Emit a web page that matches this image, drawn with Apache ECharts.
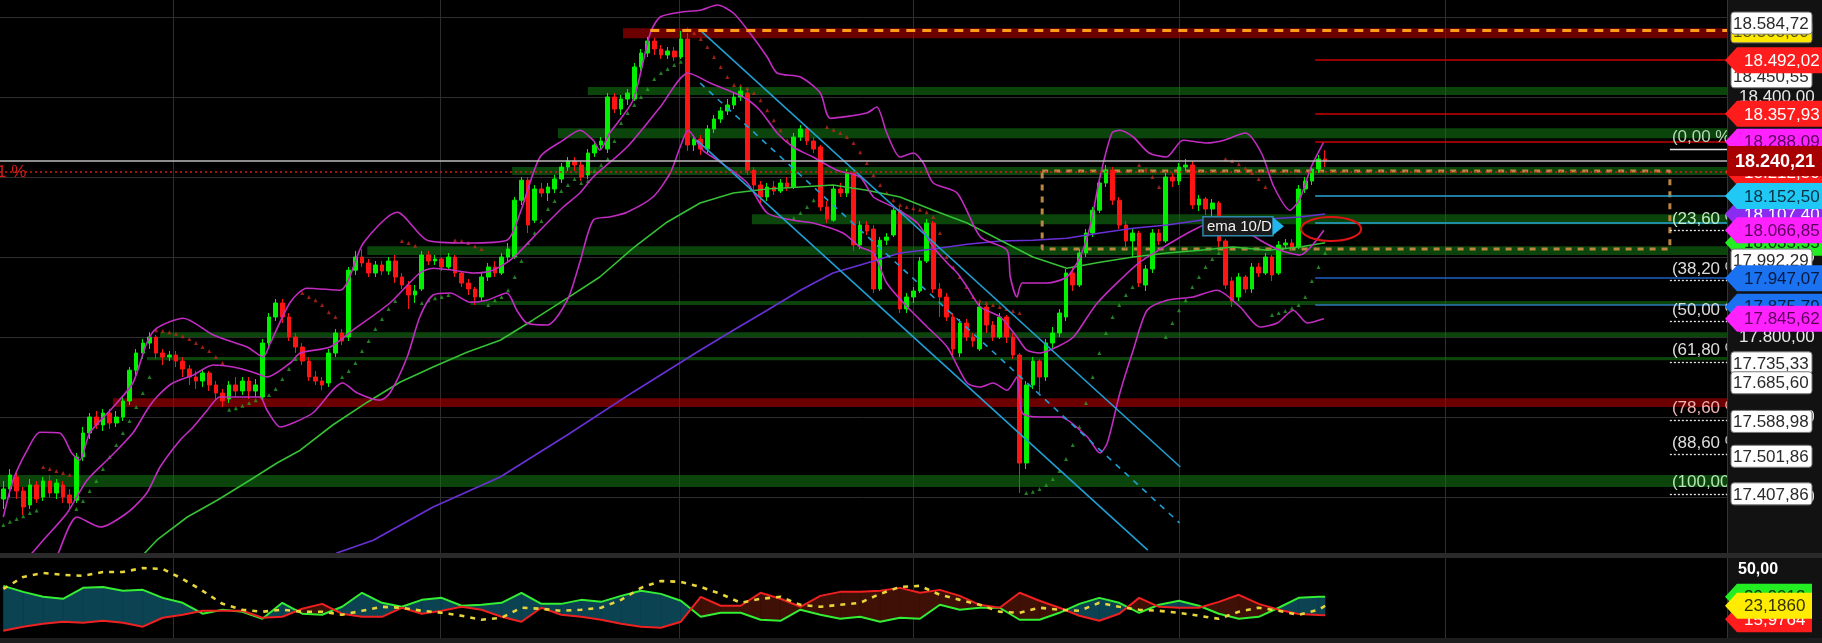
<!DOCTYPE html>
<html>
<head>
<meta charset="utf-8">
<script src="https://cdn.jsdelivr.net/npm/echarts@6.0.0/dist/echarts.min.js"></script>
<style>
html,body{margin:0;padding:0;background:#000;overflow:hidden}
#chart{width:1822px;height:643px}
</style>
</head>
<body>
<div id="chart"></div>
<script>
// ---------------- DATA ----------------
const opens = [
17395,17420,17450,17415,17380,17430,17400,17440,17410,17430,
17405,17392,17500,17560,17600,17580,17610,17585,17600,17640,
17717,17760,17785,17800,17760,17750,17755,17740,17720,17700,
17690,17710,17680,17660,17645,17680,17665,17690,17665,17650,
17785,17850,17885,17850,17800,17775,17740,17700,17690,17685,
17760,17810,17800,17967,18000,17985,17960,17980,17965,17990,
17950,17930,17905,17920,18005,17990,17995,17975,18000,17960,
17935,17920,17900,17950,17975,17960,18000,18000,18142,18192,
18092,18170,18160,18170,18195,18225,18240,18230,18205,18260,
18280,18270,18400,18370,18395,18395,18475,18510,18540,18520,
18505,18515,18500,18545,18280,18295,18270,18320,18345,18365,
18380,18400,18410,18217,18180,18150,18175,18165,18185,18175,
18300,18320,18290,18275,18125,18092,18170,18160,18210,18030,
18080,18070,17920,18042,18055,18117,17870,17900,17915,17990,
18085,17920,17900,17850,17760,17835,17800,17770,17875,17830,
17800,17850,17800,17755,17485,17680,17740,17700,17785,17810,
17850,17960,17930,18010,18060,18117,18185,18217,18142,18080,
18040,18060,17930,17970,18060,18040,18200,18190,18225,18230,
18130,18145,18120,18135,18040,17940,17900,17950,17920,17975,
17960,18000,17960,18030,18035,18025,18170,18190,18220,18245];
const closes = [
17420,17455,17415,17375,17430,17395,17440,17410,17435,17400,
17385,17500,17560,17600,17580,17610,17585,17600,17640,17717,
17760,17785,17800,17760,17750,17755,17740,17720,17700,17690,
17710,17680,17660,17640,17680,17665,17690,17665,17680,17785,
17850,17885,17850,17800,17775,17740,17700,17690,17680,17760,
17810,17790,17967,18000,17985,17960,17980,17965,17990,17950,
17930,17905,17915,18005,17990,17995,17975,18000,17960,17935,
17920,17900,17950,17975,17960,18000,18020,18142,18192,18080,
18170,18160,18175,18195,18225,18240,18230,18200,18260,18280,
18290,18400,18370,18395,18410,18475,18510,18540,18520,18505,
18515,18500,18545,18280,18295,18270,18320,18345,18365,18380,
18400,18415,18217,18180,18150,18175,18165,18185,18175,18300,
18320,18290,18270,18125,18095,18170,18160,18210,18030,18080,
18065,17920,18042,18050,18117,17870,17900,17915,17990,18085,
17920,17900,17850,17770,17835,17800,17790,17875,17830,17800,
17850,17800,17755,17485,17680,17740,17700,17785,17810,17860,
17960,17930,18010,18060,18117,18185,18217,18142,18080,18040,
18060,17935,17970,18060,18040,18200,18190,18225,18230,18130,
18145,18120,18135,18040,17930,17890,17950,17920,17975,17960,
18000,17955,18030,18035,18025,18170,18190,18220,18245,18240.21];
const lows = [
17370,17400,17395,17355,17370,17385,17390,17400,17395,17385,
17370,17385,17490,17545,17570,17565,17570,17575,17590,17630,
17700,17745,17770,17745,17730,17740,17725,17700,17680,17670,
17675,17665,17640,17625,17635,17650,17655,17645,17650,17640,
17775,17840,17835,17790,17760,17730,17690,17680,17667,17675,
17750,17780,17790,17955,17975,17950,17950,17955,17955,17935,
17920,17870,17885,17915,17980,17980,17965,17970,17950,17925,
17905,17880,17890,17940,17950,17955,17990,17995,18130,18060,
18085,18150,18140,18160,18185,18215,18215,18190,18195,18250,
18270,18260,18360,18355,18380,18390,18465,18500,18505,18495,
18495,18490,18495,18265,18265,18255,18260,18310,18335,18355,
18370,18390,18205,18165,18130,18140,18155,18160,18165,18170,
18290,18280,18260,18115,18085,18088,18150,18150,18015,18020,
18055,17910,17915,18030,18050,17860,17860,17885,17910,17985,
17910,17850,17840,17755,17750,17790,17775,17765,17810,17790,
17795,17785,17745,17410,17470,17670,17660,17690,17770,17800,
17840,17915,17925,18000,18050,18110,18175,18130,18070,18020,
18000,17925,17915,17960,18030,18035,18175,18180,18215,18120,
18115,18105,18100,18025,17920,17875,17890,17910,17910,17950,
17955,17940,17955,18020,18015,18020,18160,18180,18210,18225];
const highs = [
17440,17470,17460,17425,17445,17440,17450,17455,17445,17440,
17420,17510,17575,17610,17615,17620,17620,17615,17650,17725,
17770,17795,17812,17805,17770,17765,17765,17750,17730,17715,
17720,17715,17690,17670,17690,17700,17700,17700,17695,17795,
17860,17895,17895,17860,17810,17785,17750,17715,17700,17770,
17820,17820,17975,18015,18020,17995,17990,17990,18000,18005,
17960,17940,17930,18015,18015,18005,18000,18010,18005,17965,
17945,17925,17960,17985,17990,18010,18035,18150,18200,18200,
18180,18185,18185,18205,18235,18250,18250,18240,18270,18290,
18300,18410,18410,18405,18420,18485,18520,18550,18548,18530,
18525,18525,18565,18560,18305,18305,18330,18355,18375,18395,
18410,18425,18420,18225,18190,18185,18190,18195,18200,18310,
18330,18325,18300,18280,18140,18180,18185,18220,18215,18090,
18090,18080,18050,18060,18125,18125,17910,17925,18000,18095,
18090,17935,17910,17860,17845,17845,17810,17885,17880,17840,
17860,17855,17810,17760,17690,17750,17745,17795,17825,17870,
17970,17975,18020,18070,18125,18195,18230,18225,18150,18090,
18070,18065,17980,18070,18070,18210,18210,18235,18245,18240,
18155,18150,18145,18140,18045,17950,17960,17955,17985,17985,
18010,18005,18040,18045,18045,18180,18200,18230,18255,18267];
// Parabolic SAR, one value per candle
const sar = [
17330,17338,17345,17352,17360,17366,17475,17470,17465,17460,
17455,17370,17390,17415,17440,17470,17500,17530,17560,17590,
17625,17660,17700,17817,17815,17812,17808,17802,17795,17785,
17775,17765,17750,17735,17618,17622,17628,17635,17642,17648,
17655,17670,17695,17720,17745,17910,17900,17892,17880,17862,
17850,17700,17715,17735,17765,17790,17820,17845,17870,17890,
18040,18035,18028,17885,17892,17897,17900,17905,18042,18040,
18035,18027,18020,17880,17892,17900,17917,17950,17990,18035,
18060,18090,18120,18140,18165,18180,18195,18185,18190,18215,
18230,18245,18290,18335,18360,18380,18400,18420,18445,18460,
18470,18480,18488,18570,18560,18545,18525,18500,18475,18450,
18430,18428,18422,18410,18392,18367,18342,18317,18292,18097,
18110,18125,18142,18150,18325,18318,18310,18300,18285,18262,
18235,18205,18180,18160,18142,18130,18125,18122,18118,18112,
18100,18060,18000,17975,17950,17925,17900,17890,17885,17880,
17875,17870,17865,17860,17410,17413,17420,17430,17445,17465,
17495,17530,17575,17635,17700,17760,17810,17850,17880,17905,
17925,18230,18220,18200,18175,17800,17835,17867,17892,17925,
17950,17975,17995,18010,18245,18240,18232,18222,18210,18195,
18175,17855,17860,17865,17872,17880,17900,17940,17975,18010];

// Bollinger bands / moving averages: [candle index, price]
const bbUpper = [[0,17350],[1.5,17443],[3.6,17517],[5.5,17562],[8.5,17560],[10.3,17510],[11.5,17492],[13,17560],[16.1,17617],[19.5,17685],[21.6,17785],[23.1,17822],[27.1,17847],[31.6,17805],[36.7,17775],[39.1,17750],[40.2,17785],[43.2,17887],[45.7,17922],[50.7,17917],[54.2,18035],[59.3,18112],[63.8,18042],[69.8,18035],[75.8,18042],[77.8,18110],[80.8,18250],[84.3,18292],[86.8,18317],[88.8,18292],[89.8,18267],[91.3,18310],[94.8,18392],[97.4,18560],[98.9,18600],[101.9,18612],[104.9,18617],[107.5,18630],[109.9,18610],[112.4,18560],[115,18500],[116.5,18460],[120,18450],[123,18410],[124.5,18347],[130,18360],[131.5,18375],[133,18310],[135,18250],[137,18260],[138.5,18235],[140,18185],[143.6,18160],[147.1,18050],[151.1,18017],[151.6,17950],[152.6,17900],[153.4,17935],[157.1,17935],[160.1,17950],[162.1,18000],[163.6,18075],[165.1,18200],[166.9,18310],[168.1,18317],[170.1,18300],[172.5,18260],[175.1,18250],[177.6,18292],[181.2,18285],[183.8,18292],[187,18310],[189.4,18260],[191.3,18175],[193.7,18117],[195.1,18142],[196.9,18225],[198.8,18288.09]];
const bbMiddle = [[0,17205],[3.3,17242],[6,17292],[9.6,17360],[12.6,17442],[16.1,17500],[19.5,17560],[21.6,17617],[23.1,17650],[25.5,17685],[28.6,17705],[31.6,17730],[34.6,17725],[37.6,17712],[39.7,17700],[43.2,17735],[44.7,17760],[49.2,17775],[52.6,17817],[58.2,17885],[62.7,17960],[64.7,17972],[67.7,17967],[70.7,17960],[73.7,17967],[76.7,17997],[80.8,18067],[84.3,18125],[86.8,18160],[88.8,18200],[93.9,18275],[98.9,18375],[103.1,18460],[106.4,18435],[111.4,18400],[113.9,18367],[116.5,18310],[118.9,18275],[121.9,18250],[125.5,18217],[129,18200],[131,18150],[134,18125],[137.6,18085],[140,18025],[142.1,17985],[143.6,17960],[145.1,17925],[147.1,17875],[150.1,17850],[152.6,17800],[154.1,17767],[156.1,17760],[158.6,17775],[161.1,17800],[163.2,17850],[164.7,17885],[168.1,17942],[171.1,17987],[175.2,18030],[179.1,18067],[182.1,18087],[186.2,18072],[189.2,18042],[192.2,18017],[195.2,18005],[198.8,18066.85]];
const bbLower = [[4,17142],[7.8,17242],[11.1,17350],[14.6,17325],[18.6,17360],[21.6,17410],[23.6,17475],[26.6,17542],[28.6,17575],[30.7,17617],[32.6,17650],[34.6,17650],[38.6,17650],[39.7,17617],[41.7,17575],[43.6,17585],[46.6,17610],[51.1,17685],[53.3,17660],[56.7,17642],[58.2,17660],[60.8,17750],[62.7,17850],[64.7,17905],[67.3,17910],[70.3,17887],[72.8,17892],[75.8,17910],[77.3,17867],[78.8,17835],[81.9,17830],[84.9,17892],[86.8,17987],[88.8,18092],[91.3,18100],[93.9,18112],[97.8,18150],[100.4,18210],[101.9,18275],[103.1,18317],[105.3,18267],[107.5,18242],[112,18185],[115,18110],[118.9,18092],[121.9,18085],[126.4,18060],[129,18025],[131,18010],[133,17935],[136.1,17875],[139.1,17825],[142.1,17775],[145.1,17685],[147.1,17675],[149,17685],[151.1,17667],[152.6,17700],[153.4,17610],[156.1,17600],[159.1,17600],[163.2,17550],[165.1,17510],[166.2,17535],[168.1,17660],[170.1,17767],[172.2,17867],[175.2,17892],[179.1,17900],[182.7,17917],[186.2,17875],[189.2,17825],[191.8,17835],[194.2,17867],[196.3,17835],[198.8,17845.62]];
const smaGreen = [[18,17200],[21.3,17260],[23.1,17292],[27.7,17350],[32.2,17392],[37.1,17442],[41.2,17485],[44.7,17517],[49.6,17580],[54.8,17637],[59.7,17687],[64.7,17725],[69.8,17762],[74.8,17792],[79.7,17842],[84.9,17897],[89.8,17950],[94.8,18022],[99.9,18087],[104.9,18135],[109.9,18160],[115,18170],[120,18175],[124.9,18180],[130,18167],[135,18150],[140,18117],[145.1,18085],[150.1,18042],[155,18000],[160.1,17972],[165.1,17987],[170.1,18000],[175.2,18010],[180.2,18017],[185.1,18025],[190.3,18017],[195.2,18025],[199,18035.55]];
const smaPurple = [[46,17200],[50.2,17260],[55.7,17292],[64.7,17375],[74.8,17450],[84.9,17555],[94.8,17662],[104.9,17767],[109.9,17817],[115,17867],[120,17917],[124.9,17960],[130,17985],[135,18010],[140,18020],[145.1,18032],[150.1,18040],[155,18042],[160.1,18047],[165.1,18060],[170.1,18072],[175.2,18080],[180.2,18092],[185.1,18092],[190.3,18095],[195.2,18100],[199,18107.4]];

// Downtrend channel: [candle index, price]
const channelUpper = [[104.9,18567],[177.2,17475]];
const channelMiddle = [[104.9,18435],[177.1,17335]];
const channelLower = [[104.4,18292],[172.3,17267]];
// Range box
const rangeBox = [[156.4,18215],[250.9,18215],[250.9,18020],[156.4,18020],[156.4,18215]];

// Support / resistance zones
const zoneLow   = [18547,18405,18297,18205,18082,18005,17880,17800,17742,17625,17425];
const zoneHigh  = [18572,18425,18322,18225,18107,18027,17890,17812,17750,17647,17455];
const zoneStart = [93.3,88,83.5,76.6,112.7,54.8,70.3,23.6,21.6,16.5,-0.5];
const zoneKind  = ['r','g','g','g','g','g','g','g','g','r','g'];

// Level lines at the right
const levelValues = [18492.02,18357.93,18288.09,18152.50,18085,17947.07,17880];
const levelStart = 197.5;
const lastPrice = 18240.21;
const alertLevel = 18212.5;
const topLevel = 18568.00;
const topLevelStart = 97.4;

// Fibonacci retracement
const fibPct = ['(0,00 %)','(23,60 %)','(38,20 %)','(50,00 %)','(61,80 %)','(78,60 %)','(88,60 %)','(100,00 %)'];
const fibValues = [18270,18066.6,17940.7,17839,17737.2,17592.5,17506.4,17407.86];
const fibStart = 250.9;

// Axis ticks and price tags
const priceTicks = [18600,18400,18200,18000,17800,17600,17400];
const axisLabelTicks = [18400,18200,18000,17800,17600,17400];
const dayBreaks = [25.5,65.7,101.7,137.0,177.0,217.0];
const tagValues = [18568.00,18584.72,18450.55,18492.02,18357.93,18288.09,18212.50,18107.40,18152.50,18035.55,18066.85,17992.29,17947.07,17875.79,17845.62,17735.33,17685.60,17588.98,17501.86,17407.86];
const tagKinds  = ['yellowbox','box','box','red','red','magenta','red','purple','cyan','green','magenta','box','blue','blue','magenta','box','box','box','box','box'];

// DMI indicator (bottom panel)
const dmiIdx = [0,3,6,9,12,15,18,21,24,27,30,33,36,39,42,45,48,51,54,57,60,63,66,69,72,75,78,81,84,87,90,93,96,99,102,105,108,111,114,117,120,123,126,129,132,135,138,141,144,147,150,153,156,159,162,165,168,171,174,177,180,183,186,189,192,195,198,199];
const dmiPlus = [38.1,33.6,29.9,28.4,36.6,37.3,34.4,35.1,29.1,25.4,17.2,20.2,18.7,13.4,25.4,17.2,16.4,22.4,32.9,25.4,22.4,27.6,29.1,23.2,23.9,25.4,32.9,24.6,24.6,27.6,26.1,30.6,34.4,32.1,26.9,14.9,17.9,17.9,12.7,11.9,20.2,16.4,13.4,14.9,11.2,14.2,13.4,23.9,20.2,21.7,21.7,12.7,12.7,17.9,24.6,29.1,25.4,17.9,23.9,26.9,23.2,17.2,13.4,14.9,21.7,29.1,29.9,29.9];
const dmiMinus = [4.5,7.5,9.7,11.2,10.5,11.9,10.5,7.5,14.2,16.4,19.4,19.4,19.4,14.2,14.9,20.9,24.6,17.2,14.9,14.9,21.7,17.2,19.4,22.4,20.2,14.9,11.2,21.7,16.4,14.9,12.7,9.7,7.5,6.7,11.2,29.9,23.2,23.2,32.9,28.4,22.4,30.6,33.6,33.6,34.4,36.6,32.9,35.1,30.6,23.9,21.7,32.9,26.9,21.7,15.7,11.9,17.2,29.1,22.4,21.7,21.7,26.1,31.4,24.6,20.2,17.0,16.2,15.97];
const dmiAdx = [35.8,44.8,47.8,46.3,45.6,48.5,48.5,51.5,50.8,43.3,34.4,24.6,20.2,18.7,20.2,18.7,18.7,16.4,19.4,22.4,21.7,19.4,17.9,15.7,12.7,14.2,21.7,20.9,19.4,20.2,21.7,27.6,36.6,41.8,41.1,37.3,32.1,25.4,28.4,29.9,23.9,22.4,23.9,25.4,32.1,37.3,38.1,31.4,27.6,23.9,18.7,17.9,21.7,20.2,19.4,25.4,22.4,20.2,19.4,17.9,15.7,13.4,18.7,21.7,19.4,16.4,20.2,23.186];
const dmiTagValues = [29.9, 15.9764, 23.1860];
const dmiTagTexts = ['29,9012','15,9764','23,1860'];
const dmiTopLabel = 50;

// ---------------- CHART ----------------
const SLOTS = 260;
const X_MIN = -0.5, X_MAX = SLOTS - 0.5;
const FONT = '"Liberation Sans", Arial, sans-serif';
const cats = [];
for (let i = 0; i < SLOTS; i++) cats.push(String(i));
const candleData = opens.map((o, i) => [o, closes[i], lows[i], highs[i]]);

const GREEN_BAND = 'rgba(20,125,20,0.55)';
const RED_BAND = 'rgba(175,0,0,0.62)';
const TEAL_FILL = '#0c4352';
const BROWN_FILL = '#3e1006';
const levelColors = ['#c80000','#c80000','#c80000','#2aa6d6','#2aa6d6','#1f5fc6','#2a78b8'];

function ln(data, color, width, extra) {
  return Object.assign({
    type: 'line', xAxisIndex: 1, yAxisIndex: 0, data: data,
    showSymbol: false, symbol: 'none', silent: true, z: 4,
    lineStyle: { color: color, width: width }
  }, extra || {});
}
function seg(x0, x1, v, style) {
  return [{ coord: [x0, v], lineStyle: style }, { coord: [x1, v] }];
}

const markLines = [
  seg(X_MIN, X_MAX, lastPrice, { color: '#bdbdbd', width: 1.5, type: 'solid' }),
  seg(X_MIN, X_MAX, alertLevel, { color: '#d41a1a', width: 1.5, type: [2, 3] }),
  seg(topLevelStart, X_MAX, topLevel, { color: '#ff9c1c', width: 3, type: [9, 7] })
];
levelValues.forEach((v, k) => markLines.push(seg(levelStart, X_MAX, v, { color: levelColors[k], width: 1.5, type: 'solid' })));
fibValues.forEach((v, k) => markLines.push(seg(fibStart, X_MAX, v, { color: '#e6e6e6', width: 1.3, type: k === 0 ? 'solid' : [2, 2] })));

const zones = zoneLow.map((lo, k) => [
  { coord: [zoneStart[k], zoneHigh[k]], itemStyle: { color: zoneKind[k] === 'r' ? RED_BAND : GREEN_BAND } },
  { coord: [X_MAX, lo] }
]);

const pairs = (xs, ys) => ys.map((y, k) => [xs[k], y]);
const dmiFillData = dmiIdx.map((x, k) => [x, dmiPlus[k], dmiMinus[k]]);

function renderDmiFill(params, api) {
  const k = params.dataIndex;
  if (k >= dmiIdx.length - 1) return null;
  const x0 = dmiIdx[k], x1 = dmiIdx[k + 1];
  const g0 = dmiPlus[k], g1 = dmiPlus[k + 1], r0 = dmiMinus[k], r1 = dmiMinus[k + 1];
  const d0 = g0 - r0, d1 = g1 - r1;
  const P = (x, y) => api.coord([x, y]);
  const kids = [];
  const poly = (pts, pos) => kids.push({ type: 'polygon', shape: { points: pts }, style: { fill: pos ? TEAL_FILL : BROWN_FILL, stroke: pos ? TEAL_FILL : BROWN_FILL, lineWidth: 0.5 } });
  if (d0 * d1 >= 0) {
    poly([P(x0, g0), P(x1, g1), P(x1, r1), P(x0, r0)], (d0 + d1) >= 0);
  } else {
    const t = d0 / (d0 - d1);
    const xc = x0 + t * (x1 - x0), yc = g0 + t * (g1 - g0);
    poly([P(x0, g0), P(xc, yc), P(x0, r0)], d0 > 0);
    poly([P(xc, yc), P(x1, g1), P(x1, r1)], d1 > 0);
  }
  return { type: 'group', children: kids };
}

function dmiLine(data, style, extra) {
  return Object.assign({
    type: 'line', xAxisIndex: 2, yAxisIndex: 1, data: data, showSymbol: false,
    symbol: 'none', silent: true, z: 4, lineStyle: style
  }, extra || {});
}

const option = {
  backgroundColor: '#000',
  animation: false,
  grid: [
    { left: 0, right: 95, top: 0, height: 553 },
    { left: 0, right: 95, top: 558, height: 80 }
  ],
  xAxis: [
    { type: 'category', gridIndex: 0, data: cats, boundaryGap: true, show: false },
    { type: 'value', gridIndex: 0, min: X_MIN, max: X_MAX, show: false },
    { type: 'value', gridIndex: 1, min: X_MIN, max: X_MAX, show: false }
  ],
  yAxis: [
    { type: 'value', gridIndex: 0, min: 17260, max: 18642.5, show: false },
    { type: 'value', gridIndex: 1, min: -1, max: 59, show: false }
  ],
  series: [
    ln(smaPurple, '#6a30d8', 1.6, {
      markArea: { silent: true, data: zones }
    }),
    ln(smaGreen, '#35c035', 1.6, {
      markLine: { silent: true, symbol: ['none', 'none'], label: { show: false }, data: markLines }
    }),
    ln(bbUpper, '#c22cc2', 1.6, { smooth: 0.25 }),
    ln(bbMiddle, '#c22cc2', 1.6, { smooth: 0.25 }),
    ln(bbLower, '#c22cc2', 1.6, { smooth: 0.25 }),
    ln(channelUpper, '#1f9fd3', 1.6),
    ln(channelMiddle, '#1f9fd3', 1.6, { lineStyle: { color: '#1f9fd3', width: 1.6, type: [6, 6] } }),
    ln(channelLower, '#1f9fd3', 1.6),
    ln(rangeBox, '#bd8540', 3, { lineStyle: { color: '#bd8540', width: 3, type: [6, 6] }, z: 3 }),
    {
      type: 'scatter', xAxisIndex: 0, yAxisIndex: 0, data: sar, symbol: 'triangle', symbolSize: 4,
      silent: true, z: 3,
      itemStyle: { color: p => (sar[p.dataIndex] < lows[p.dataIndex] ? '#2a9f2a' : '#c0281c') }
    },
    {
      type: 'candlestick', xAxisIndex: 0, yAxisIndex: 0, data: candleData,
      barWidth: '62%', silent: true, z: 3,
      itemStyle: { color: '#00f000', color0: '#ff1414', borderColor: '#00f000', borderColor0: '#ff1414', borderWidth: 1 }
    },
    {
      type: 'custom', xAxisIndex: 2, yAxisIndex: 1, data: dmiFillData, renderItem: renderDmiFill,
      encode: { x: 0, y: [1, 2] }, silent: true, z: 2, clip: true
    },
    dmiLine(pairs(dmiIdx, dmiPlus), { color: '#33ee33', width: 2 }),
    dmiLine(pairs(dmiIdx, dmiMinus), { color: '#ee2020', width: 2 }),
    dmiLine(pairs(dmiIdx, dmiAdx), { color: '#e6d63a', width: 2.6, type: [5, 6] })
  ]
};

const chart = echarts.init(document.getElementById('chart'));
chart.setOption(option);

// ---------------- ANNOTATIONS (positions via chart scales) ----------------
const pY = v => chart.convertToPixel({ yAxisIndex: 0 }, v);
const pX = i => chart.convertToPixel({ xAxisIndex: 1 }, i);
const pY2 = v => chart.convertToPixel({ yAxisIndex: 1 }, v);
function fmt(v, d) {
  const s = v.toFixed(d === undefined ? 2 : d).split('.');
  return s[0].replace(/\B(?=(\d{3})+(?!\d))/g, '.') + ',' + s[1];
}

const plotRight = pX(X_MAX);
const mainBottom = pY(17260);
const subTop = pY2(59), subBottom = pY2(-1);
const g = [];
let zc = 100;

// grid lines
priceTicks.forEach(v => {
  const y = Math.round(pY(v)) + 0.5;
  g.push({ type: 'line', z: 0, silent: true, shape: { x1: 0, y1: y, x2: plotRight, y2: y }, style: { stroke: '#2e2e2e', lineWidth: 1 } });
});
dayBreaks.forEach(i => {
  const x = Math.round(pX(i)) + 0.5;
  g.push({ type: 'line', z: 0, silent: true, shape: { x1: x, y1: 0, x2: x, y2: mainBottom }, style: { stroke: '#2e2e2e', lineWidth: 1 } });
  g.push({ type: 'line', z: 0, silent: true, shape: { x1: x, y1: subTop, x2: x, y2: subBottom }, style: { stroke: '#2e2e2e', lineWidth: 1 } });
});

// fib texts
const fibColors = ['#b6d9b6', '#c0eec0', '#dddddd', '#dddddd', '#dddddd', '#f0b4b4', '#dddddd', '#b6e6b6'];
fibValues.forEach((v, k) => {
  g.push({ type: 'text', z: 90, silent: true, x: pX(fibStart) + 2, y: pY(v) - 3,
    style: { text: fibPct[k], fill: fibColors[k], font: '17px ' + FONT, align: 'left', verticalAlign: 'bottom' } });
});

// "1 %" alert label at the left
g.push({ type: 'text', z: 90, silent: true, x: -3, y: pY(alertLevel),
  style: { text: '1 %', fill: '#d41a1a', font: '17px ' + FONT, align: 'left', verticalAlign: 'middle' } });

// ema 10/D label
{
  const x0 = pX(180.6), yc = pY(18077);
  g.push({ type: 'rect', z: 90, silent: true, shape: { x: x0, y: yc - 9.5, width: 70, height: 19 }, style: { fill: '#1b1b1b', stroke: '#2f88ab', lineWidth: 1.5 } });
  g.push({ type: 'polygon', z: 90, silent: true, shape: { points: [[x0 + 70, yc - 9], [x0 + 81, yc], [x0 + 70, yc + 9]] }, style: { fill: '#22b6ee' } });
  g.push({ type: 'text', z: 91, silent: true, x: x0 + 4, y: yc + 1, style: { text: 'ema 10/D', fill: '#f2f2f2', font: '15px ' + FONT, align: 'left', verticalAlign: 'middle' } });
}
// hand-drawn red ellipse
g.push({ type: 'ellipse', z: 90, silent: true, shape: { cx: pX(199.9), cy: pY(18070), rx: 30, ry: 12 }, style: { fill: 'none', stroke: '#e01414', lineWidth: 2 } });

// right axis panel and separators
g.push({ type: 'rect', z: 95, silent: true, shape: { x: plotRight, y: 0, width: 1822 - plotRight, height: 643 }, style: { fill: '#121212' } });
g.push({ type: 'line', z: 95, silent: true, shape: { x1: plotRight + 0.5, y1: 0, x2: plotRight + 0.5, y2: 643 }, style: { stroke: '#333', lineWidth: 1 } });
g.push({ type: 'rect', z: 96, silent: true, shape: { x: 0, y: mainBottom, width: 1822, height: subTop - mainBottom }, style: { fill: '#2a2a2a' } });
g.push({ type: 'rect', z: 96, silent: true, shape: { x: 0, y: subBottom, width: 1822, height: 643 - subBottom }, style: { fill: '#1d1d1d' } });

// plain axis labels
axisLabelTicks.forEach(v => {
  g.push({ type: 'text', z: 97, silent: true, x: plotRight + 12, y: pY(v),
    style: { text: fmt(v), fill: '#e8e8e8', font: '17px ' + FONT, align: 'left', verticalAlign: 'middle' } });
});

const tagStyle = {
  red: ['#ff1c1c', '#ffffff'], magenta: ['#ff22ff', '#5a005a'], cyan: ['#1fc8f5', '#083040'],
  blue: ['#1b72f0', '#061a40'], purple: ['#8a2cf0', '#ffffff'], green: ['#22ee22', '#063306'],
  yellow: ['#ffec00', '#333300']
};
function arrowTag(y, text, kind, right) {
  const [fill, txt] = tagStyle[kind];
  const r = right || 1822;
  g.push({ type: 'polygon', z: zc++, silent: true, shape: { points: [[plotRight - 2, y], [plotRight + 10, y - 13], [r, y - 13], [r, y + 13], [plotRight + 10, y + 13]] }, style: { fill: fill } });
  g.push({ type: 'text', z: zc++, silent: true, x: plotRight + 17, y: y + 1, style: { text: text, fill: txt, font: '17px ' + FONT, align: 'left', verticalAlign: 'middle' } });
}
function boxTag(y, text, fill, txt) {
  g.push({ type: 'rect', z: zc++, silent: true, shape: { x: plotRight + 4, y: y - 11, width: 81, height: 22, r: 3 }, style: { fill: fill, stroke: '#777', lineWidth: 1 } });
  g.push({ type: 'text', z: zc++, silent: true, x: plotRight + 6, y: y + 1, style: { text: text, fill: txt, font: '17px ' + FONT, align: 'left', verticalAlign: 'middle' } });
}

tagValues.forEach((v, k) => {
  const kind = tagKinds[k];
  const y = pY(v);
  if (kind === 'box') boxTag(y, fmt(v), '#ffffff', '#2a2a2a');
  else if (kind === 'yellowbox') boxTag(y + 2, fmt(v), '#ffe800', '#555500');
  else arrowTag(y, fmt(v), kind);
});
{
  // current price box on top of neighbours
  const yc = pY(lastPrice);
  g.push({ type: 'rect', z: 200, silent: true, shape: { x: plotRight, y: yc - 15, width: 1822 - plotRight, height: 30 }, style: { fill: '#a80000' } });
  g.push({ type: 'text', z: 201, silent: true, x: plotRight + 8, y: yc + 1, style: { text: fmt(lastPrice), fill: '#ffffff', font: 'bold 18px ' + FONT, align: 'left', verticalAlign: 'middle' } });
}

// bottom panel labels
g.push({ type: 'text', z: zc++, silent: true, x: plotRight + 11, y: pY2(dmiTopLabel), style: { text: fmt(dmiTopLabel), fill: '#ffffff', font: 'bold 16px ' + FONT, align: 'left', verticalAlign: 'middle' } });
arrowTag(pY2(dmiTagValues[0]), dmiTagTexts[0], 'green', 1812);
arrowTag(pY2(dmiTagValues[1]) + 4, dmiTagTexts[1], 'red', 1812);
arrowTag(pY2(dmiTagValues[2]), dmiTagTexts[2], 'yellow', 1812);

chart.setOption({ graphic: g });
</script>
</body>
</html>
